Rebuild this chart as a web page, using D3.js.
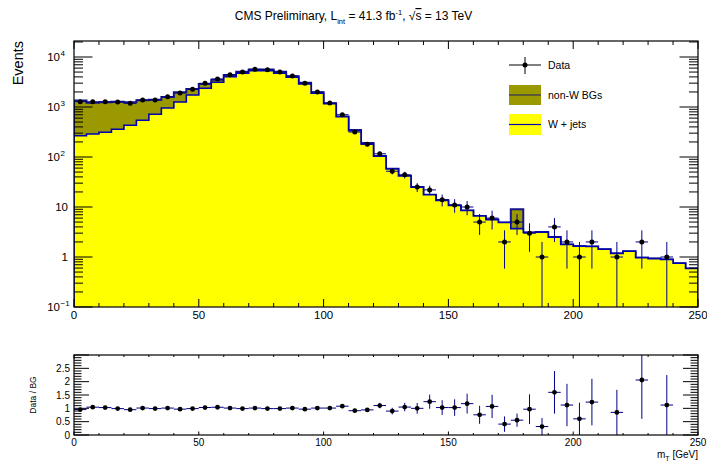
<!DOCTYPE html>
<html><head><meta charset="utf-8">
<script src="https://cdn.jsdelivr.net/npm/d3@7"></script>
<style>
body{margin:0;background:#fff}
svg{display:block}
text{font-family:"Liberation Sans",Arial,Helvetica,sans-serif;fill:#000}
</style>
</head><body>
<svg id="c" width="707" height="466"></svg>
<script>
// ---- data (bins of 5 GeV in mT) ----
const BIN_EDGES = [0,5,10,15,20,25,30,35,40,45,50,55,60,65,70,75,80,85,90,95,100,105,110,115,120,125,130,135,140,145,150,155,160,165,170,175,180,185,190,195,200,205,210,215,220,225,230,235,240,245,250];
const DATA = [1281,1268,1274,1259,1186,1380,1380,1607,1905,2259,2979,3631,4426,5012,5675,5572,5012,4169,2979,1995,1202,701,316,179,116,52,44,25,22,14,11,10,5,6,2,5,3,1,4,2,1,2,0,1,0,2,0,1,0,0];
const W_JETS = [267,288,312,358,431,542,714,955,1259,1738,2366,3119,4036,4721,5321,5321,4721,3926,2884,1879,1164,640,336,182,104,57.5,42,25,17.6,13.6,10.7,8.5,6.6,5.6,4.9,3.7,3.1,3.15,2.5,1.78,1.65,1.62,1.43,1.18,1.3,0.97,0.93,0.89,0.75,0.59];
const NON_W = [1076,927,927,914,817,824,680,636,705,544,526,372,346,342,298,307,342,202,187,96,26,9,11,8,1,0.5,0,0,0,0,0,0,0,0,0,5.3,0,0,0,0,0,0,0,0,0,0,0,0,0,0];
const X_TICKS = [0,50,100,150,200,250];
const Y_DECADES = [-1,0,1,2,3,4];
const RATIO_TICKS = [0,0.5,1,1.5,2,2.5];

const svg = d3.select("#c");
const L = 74, Rt = 698, T = 41, B = 307, RT = 355, RB = 435;
const x = d3.scaleLinear().domain([0,250]).range([L,Rt]);
const y = d3.scaleLog().domain([0.1, 20900]).range([B,T]).clamp(true);
const yr = d3.scaleLinear().domain([0,3]).range([RB,RT]);
const yv = v => y(Math.max(v, 1e-4));

const TOTAL = W_JETS.map((w,i)=>w+NON_W[i]);
const defs = svg.append("defs");
defs.append("clipPath").attr("id","cm").append("rect").attr("x",L).attr("y",T).attr("width",Rt-L).attr("height",B-T);
defs.append("clipPath").attr("id","cr").append("rect").attr("x",L).attr("y",RT).attr("width",Rt-L).attr("height",RB-RT);

function stepPts(vals){
  const p=[[x(BIN_EDGES[0]),B]];
  vals.forEach((v,i)=>{p.push([x(BIN_EDGES[i]),yv(v)]);p.push([x(BIN_EDGES[i+1]),yv(v)]);});
  p.push([x(BIN_EDGES[BIN_EDGES.length-1]),B]);
  return p;
}
const line = d3.line();
const gm = svg.append("g").attr("clip-path","url(#cm)");
// stack: total (non-W on top) first, then W+jets
gm.append("path").attr("d",line(stepPts(TOTAL))+"Z").attr("fill","#9a9a00").attr("stroke","none");
gm.append("path").attr("d",line(stepPts(TOTAL))).attr("fill","none").attr("stroke","#15158a").attr("stroke-width",2);
gm.append("path").attr("d",line(stepPts(W_JETS))+"Z").attr("fill","#ffff00").attr("stroke","none");
gm.append("path").attr("d",line(stepPts(W_JETS))).attr("fill","none").attr("stroke","#0000b0").attr("stroke-width",1.6);

// data points
const ERR = "#00008b";
DATA.forEach((n,i)=>{
  if(n<=0) return;
  const cx = x((BIN_EDGES[i]+BIN_EDGES[i+1])/2), cy = yv(n), e = Math.sqrt(n);
  gm.append("line").attr("x1",x(BIN_EDGES[i])).attr("x2",x(BIN_EDGES[i+1])).attr("y1",cy).attr("y2",cy).attr("stroke",ERR).attr("stroke-width",1);
  gm.append("line").attr("x1",cx).attr("x2",cx).attr("y1",yv(n+e)).attr("y2",yv(n-e)).attr("stroke",ERR).attr("stroke-width",1);
  gm.append("circle").attr("cx",cx).attr("cy",cy).attr("r",2.5).attr("fill","#000");
});

// ratio panel
const gr = svg.append("g").attr("clip-path","url(#cr)");
DATA.forEach((n,i)=>{
  if(n<=0) return;
  const r = n/TOTAL[i], e = Math.sqrt(n)/TOTAL[i];
  const cx = x((BIN_EDGES[i]+BIN_EDGES[i+1])/2), cy = yr(r);
  gr.append("line").attr("x1",x(BIN_EDGES[i])).attr("x2",x(BIN_EDGES[i+1])).attr("y1",cy).attr("y2",cy).attr("stroke",ERR).attr("stroke-width",1);
  gr.append("line").attr("x1",cx).attr("x2",cx).attr("y1",yr(r+e)).attr("y2",yr(Math.max(r-e,-1))).attr("stroke",ERR).attr("stroke-width",1);
  gr.append("circle").attr("cx",cx).attr("cy",cy).attr("r",2.4).attr("fill","#000");
});

// frames
[[T,B],[RT,RB]].forEach(([t,b])=>{
  svg.append("rect").attr("x",L).attr("y",t).attr("width",Rt-L).attr("height",b-t).attr("fill","none").attr("stroke","#000").attr("stroke-width",1.2);
});
const tk = svg.append("g").attr("stroke","#000").attr("stroke-width",1);
function tick(x1,y1,x2,y2){tk.append("line").attr("x1",x1).attr("y1",y1).attr("x2",x2).attr("y2",y2);}
// x ticks
for(let v=0; v<=250; v+=10){
  const maj = v%50===0, px = x(v);
  const lm = maj?8:4;
  tick(px,B,px,B-lm); tick(px,T,px,T+lm);
  const lr = maj?3.5:2;
  tick(px,RB,px,RB-lr); tick(px,RT,px,RT+lr);
}
// log y ticks
Y_DECADES.forEach(d=>{
  for(let k=1;k<=9;k++){
    const v = k*Math.pow(10,d);
    if(v>20900) break;
    const py = y(v), len = k===1?18.5:9;
    tick(L,py,L+len,py); tick(Rt,py,Rt-len,py);
  }
});
// ratio y ticks
for(let j=0;j<=30;j++){
  const v=j/10, py=yr(v), len=(j%5===0)?15:7.5;
  tick(L,py,L+len,py); tick(Rt,py,Rt-len,py);
}

// labels
X_TICKS.forEach(v=>{
  svg.append("text").attr("x",x(v)).attr("y",319).attr("text-anchor","middle").attr("font-size",11.5).text(v);
  svg.append("text").attr("x",x(v)).attr("y",445.5).attr("text-anchor","middle").attr("font-size",10).text(v);
});
Y_DECADES.forEach(d=>{
  const py = y(Math.pow(10,d))+4;
  if(d===0||d===1){
    svg.append("text").attr("x",68).attr("y",py).attr("text-anchor","end").attr("font-size",11.5).text(d===0?"1":"10");
  } else {
    svg.append("text").attr("x",60).attr("y",py).attr("text-anchor","end").attr("font-size",11.5).text("10");
    svg.append("text").attr("x",60.5).attr("y",py-5).attr("text-anchor","start").attr("font-size",8).text(d<0?"\u2212"+(-d):String(d));
  }
});
RATIO_TICKS.forEach(v=>{
  svg.append("text").attr("x",70).attr("y",yr(v)+3.5).attr("text-anchor","end").attr("font-size",10).text(String(v));
});

// axis titles
svg.append("text").attr("transform","translate(23,41) rotate(-90)").attr("text-anchor","end").attr("font-size",14.5).text("Events");
svg.append("text").attr("transform","translate(36,395) rotate(-90)").attr("text-anchor","middle").attr("font-size",8.5).text("Data / BG");
const xt = svg.append("text").attr("x",698).attr("y",458).attr("text-anchor","end").attr("font-size",10);
xt.append("tspan").text("m");
xt.append("tspan").attr("font-size",7).attr("dy",2.5).text("T");
xt.append("tspan").attr("dy",-2.5).text(" [GeV]");

// title
const tt = svg.append("text").attr("x",353.5).attr("y",20).attr("text-anchor","middle").attr("font-size",12);
tt.append("tspan").text("CMS Preliminary, L");
tt.append("tspan").attr("font-size",7.5).attr("dy",4).text("int");
tt.append("tspan").attr("dy",-4).text(" = 41.3 fb");
tt.append("tspan").attr("font-size",7.5).attr("dy",-5).text("-1");
tt.append("tspan").attr("dy",5).text(", \u221A");
tt.append("tspan").style("text-decoration","overline").text("s");
tt.append("tspan").text(" = 13 TeV");

// legend
const lg = svg.append("g");
lg.append("line").attr("x1",509).attr("x2",541).attr("y1",65).attr("y2",65).attr("stroke","#000");
lg.append("line").attr("x1",525).attr("x2",525).attr("y1",57).attr("y2",74).attr("stroke","#000");
lg.append("circle").attr("cx",525).attr("cy",65).attr("r",2.5).attr("fill","#000");
lg.append("text").attr("x",548).attr("y",69).attr("font-size",10.5).text("Data");
lg.append("rect").attr("x",509).attr("y",85).attr("width",32).attr("height",20).attr("fill","#9a9a00");
lg.append("line").attr("x1",509).attr("x2",541).attr("y1",95).attr("y2",95).attr("stroke","#444").attr("stroke-width",1.5);
lg.append("text").attr("x",548).attr("y",99).attr("font-size",10.5).text("non-W BGs");
lg.append("rect").attr("x",509).attr("y",114).attr("width",32).attr("height",21).attr("fill","#ffff00");
lg.append("line").attr("x1",509).attr("x2",541).attr("y1",124.5).attr("y2",124.5).attr("stroke","#0000b0").attr("stroke-width",1.2);
lg.append("text").attr("x",548).attr("y",128).attr("font-size",10.5).text("W + jets");
</script>
</body></html>
